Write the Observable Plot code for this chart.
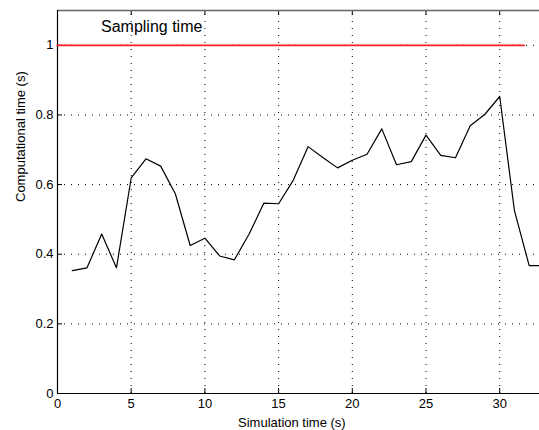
<!DOCTYPE html>
<html><head><meta charset="utf-8">
<script src="https://cdn.jsdelivr.net/npm/d3@7"></script>
<script src="https://cdn.jsdelivr.net/npm/@observablehq/plot@0.6"></script>
<style>body{margin:0;background:#fff}</style>
</head><body><div id="chart"></div>
<script>
const simTime = [1,2,3,4,5,6,7,8,9,10,11,12,13,14,15,16,17,18,19,20,21,22,23,24,25,26,27,28,29,30,31,32,33];
const compTime = [0.353,0.361,0.458,0.361,0.619,0.674,0.653,0.573,0.425,0.446,0.395,0.384,0.458,0.547,0.545,0.613,0.709,0.678,0.648,0.670,0.687,0.760,0.657,0.666,0.742,0.684,0.677,0.769,0.802,0.853,0.525,0.367,0.367];
const samplingX = [0, 31.65];
const samplingY = [1, 1];
const xTicks = [0,5,10,15,20,25,30];
const yTicks = [0,0.2,0.4,0.6,0.8,1];
const yTickLabels = ["0","0.2","0.4","0.6","0.8","1"];

const font = "Liberation Sans, Arial, Helvetica, sans-serif";
const data = simTime.map((t,i)=>({t, v: compTime[i]}));
const samp = samplingX.map((t,i)=>({t, v: samplingY[i]}));
const xMax = 32.7, yMax = 1.1;

const chart = Plot.plot({
  width: 539, height: 430,
  marginLeft: 57, marginRight: 0, marginTop: 10, marginBottom: 37,
  style: {fontFamily: font, fontSize: "13px", color: "#000", background: "#fff"},
  x: {domain: [0, xMax]},
  y: {domain: [0, yMax]},
  marks: [
    // dotted grid
    Plot.ruleX(xTicks.filter(d=>d>0), {y1: 0, y2: yMax, stroke: "#000", strokeDasharray: "1,6", strokeWidth: 1}),
    Plot.ruleY(yTicks.filter(d=>d>0), {x1: 0, x2: xMax, stroke: "#000", strokeDasharray: "1,6", strokeWidth: 1}),
    // inward ticks
    Plot.ruleX(xTicks, {y1: 0, y2: 5/349, stroke: "#000"}),
    Plot.ruleX(xTicks, {y1: yMax, y2: yMax - 5/349, stroke: "#000"}),
    Plot.ruleY(yTicks, {x1: 0, x2: 5/14.73, stroke: "#000"}),
    // frame
    Plot.ruleY([yMax], {stroke: "#666", strokeWidth: 1.3}),
    Plot.ruleY([0], {stroke: "#000", strokeWidth: 1.2}),
    Plot.ruleX([0], {stroke: "#000", strokeWidth: 1.2}),
    // sampling time line
    Plot.line(samp, {x: "t", y: "v", stroke: "#ff2020", strokeWidth: 1.8}),
    Plot.text(["Sampling time"], {x: 2.95, y: 1.052, text: d=>d, textAnchor: "start", fontSize: 16, fill: "#000"}),
    // computational time
    Plot.line(data, {x: "t", y: "v", stroke: "#000", strokeWidth: 1.2, clip: true}),
    // axes
    Plot.axisX(xTicks, {tickSize: 0, tickPadding: 5, label: null, fontSize: 13}),
    Plot.axisY(yTicks, {tickSize: 0, tickPadding: 4, tickFormat: (d,i)=>yTickLabels[yTicks.indexOf(d)], label: null, fontSize: 13}),
    Plot.text(["Simulation time (s)"], {x: 15.9, y: 0, dy: 29, text: d=>d, fontSize: 13, fill: "#000"}),
    Plot.text(["Computational time (s)"], {frameAnchor: "left", dx: -37, rotate: -90, text: d=>d, fontSize: 13, fill: "#000"})
  ]
});
document.getElementById("chart").appendChild(chart);
</script>
</body></html>
